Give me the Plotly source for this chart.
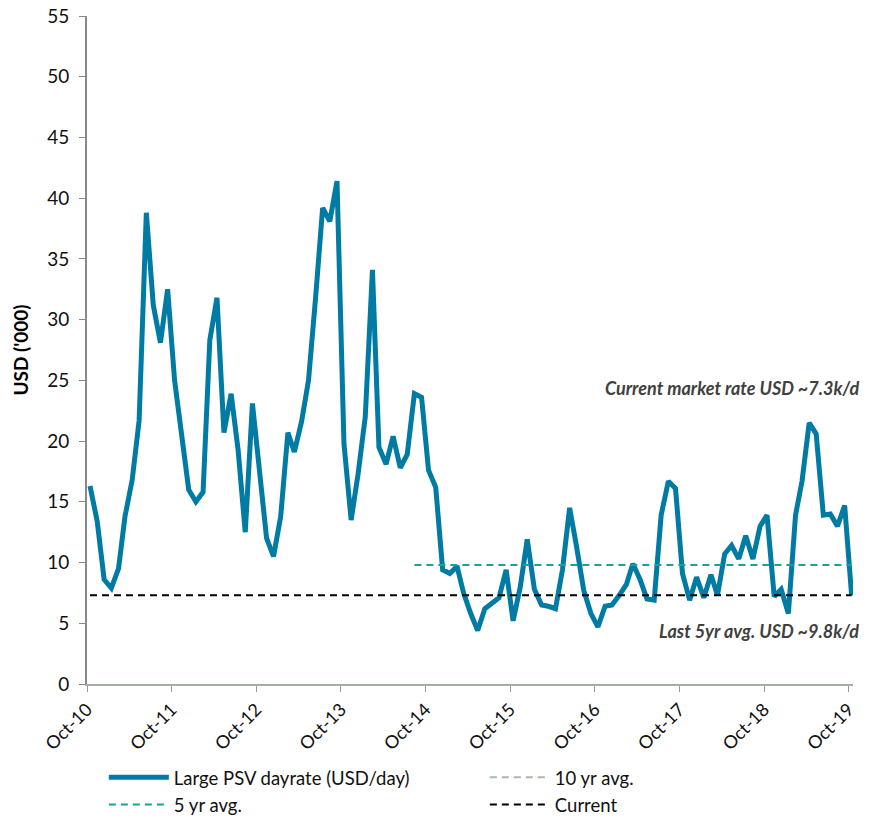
import pandas as pd
import plotly.graph_objects as go

# Monthly large PSV dayrate, Oct-10 to Oct-19 (USD '000 per day)
dayrate = [
    16.3, 13.4, 8.6, 7.9, 9.5, 13.8, 16.8, 21.7, 38.8, 31.2, 28.1, 32.5,
    25.0, 20.6, 16.0, 15.0, 15.8, 28.3, 31.8, 20.7, 23.9, 19.3, 12.5, 23.1,
    17.5, 12.0, 10.5, 13.8, 20.7, 19.1, 21.6, 25.0, 31.9, 39.2, 38.1, 41.4,
    19.8, 13.5, 17.3, 22.0, 34.1, 19.5, 18.1, 20.4, 17.8, 18.9, 23.9, 23.6,
    17.6, 16.2, 9.4, 9.1, 9.7, 7.5, 5.8, 4.4, 6.2, 6.6, 7.1, 9.4,
    5.2, 8.0, 11.9, 7.8, 6.5, 6.4, 6.2, 9.4, 14.5, 11.3, 7.7, 5.8,
    4.7, 6.4, 6.5, 7.3, 8.2, 9.9, 8.6, 7.0, 6.9, 13.9, 16.7, 16.1,
    9.1, 6.9, 8.8, 7.1, 9.0, 7.3, 10.7, 11.4, 10.3, 12.2, 10.3, 13.0,
    13.9, 7.2, 7.8, 5.8, 13.9, 16.7, 21.5, 20.6, 13.9, 14.0, 13.0, 14.7,
    7.3,
]
current_rate = 7.3
five_yr_avg = 9.8
five_yr_start = 46  # first month of the 5 yr average window

months = pd.date_range("2010-10-01", periods=len(dayrate), freq="MS") + pd.Timedelta(days=13)
tick_dates = pd.date_range("2010-10-01", "2019-10-01", freq="12MS")
tick_labels = [d.strftime("%b-%y") for d in tick_dates]

current_series = [current_rate] * len(dayrate)
five_yr_series = [None] * five_yr_start + [five_yr_avg] * (len(dayrate) - five_yr_start)

FONT = "Lato"

fig = go.Figure()
fig.add_trace(go.Scatter(
    x=months, y=dayrate, mode="lines", name="Large PSV dayrate (USD/day)",
    line=dict(color="#007ba4", width=5),
))
fig.add_trace(go.Scatter(
    x=[None], y=[None], mode="lines", name="10 yr avg.",
    line=dict(color="#a9b6a9", width=2, dash="7px,5px"),
))
fig.add_trace(go.Scatter(
    x=months, y=five_yr_series, mode="lines", name="5 yr avg.",
    line=dict(color="#18a198", width=2, dash="7px,5px"),
))
fig.add_trace(go.Scatter(
    x=months, y=current_series, mode="lines", name="Current",
    line=dict(color="#000000", width=2, dash="7px,5px"),
))

fig.add_annotation(
    x=1.01, xref="paper", y=24.4, yref="y", xanchor="right", yanchor="middle",
    text="<b><i>Current market rate USD ~7.3k/d</i></b>", showarrow=False,
    font=dict(family=FONT, size=18, color="#404040"),
)
fig.add_annotation(
    x=1.01, xref="paper", y=4.35, yref="y", xanchor="right", yanchor="middle",
    text="<b><i>Last 5yr avg. USD ~9.8k/d</i></b>", showarrow=False,
    font=dict(family=FONT, size=18, color="#404040"),
)

fig.update_layout(
    width=877, height=819,
    margin=dict(l=87, r=24, t=16, b=135, autoexpand=False),
    paper_bgcolor="white", plot_bgcolor="white",
    font=dict(family=FONT, size=18, color="#111111"),
    showlegend=True,
    legend=dict(
        orientation="h", x=0.022, y=-0.112, xanchor="left", yanchor="top",
        entrywidth=306, entrywidthmode="pixels", itemwidth=60,
        font=dict(family=FONT, size=18.5, color="#111111"),
        tracegroupgap=0, bgcolor="rgba(0,0,0,0)", traceorder="normal",
    ),
    xaxis=dict(
        type="date",
        range=["2010-10-01", "2019-10-20"],
        tickmode="array", tickvals=tick_dates, ticktext=tick_labels,
        tickangle=-45, ticks="outside", ticklen=6, tickcolor="#999999",
        showline=True, linecolor="#a5aea5", linewidth=2,
        showgrid=False, zeroline=False,
        tickfont=dict(family=FONT, size=18, color="#111111"),
    ),
    yaxis=dict(
        range=[0, 55], dtick=5, tick0=0,
        ticks="outside", ticklen=6, tickcolor="#888888",
        showline=True, linecolor="#888888", linewidth=2,
        showgrid=False, zeroline=False, ticklabelstandoff=6,
        tickfont=dict(family=FONT, size=19, color="#111111"),
        title=dict(text="<b>USD ('000)</b>", font=dict(family=FONT, size=19, color="#000000"), standoff=14),
    ),
)

fig.write_html("out.html")
